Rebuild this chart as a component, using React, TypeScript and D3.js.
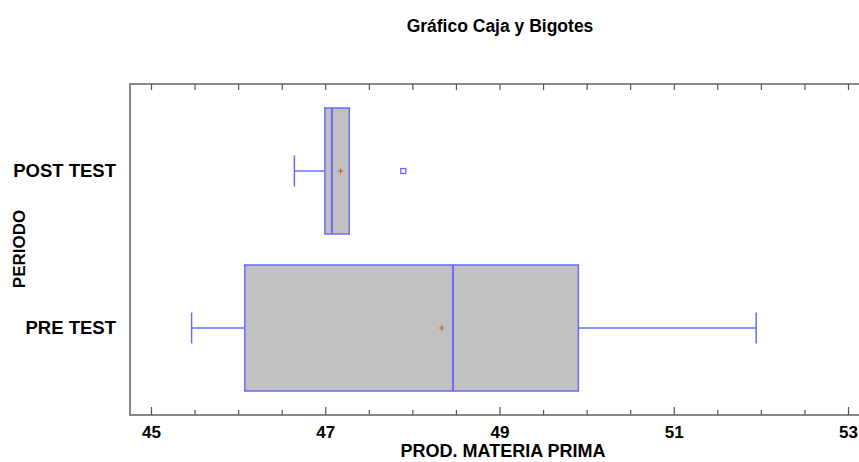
import * as d3 from "d3";
import { useEffect, useRef } from "react";

// Periodos y estadisticos
const periods = ["POST TEST", "PRE TEST"];
const mins = [46.64, 45.46];
const q1s = [46.99, 46.07];
const medians = [47.07, 48.46];
const q3s = [47.27, 49.9];
const maxs = [47.27, 51.94];
const means = [47.17, 48.33];
const outliers = [[47.89], []];
const xTicks = [45, 47, 49, 51, 53];

const App = () => {
  const ref = useRef(null);

  useEffect(() => {
    const svg = d3.select(ref.current);
    svg.selectAll("*").remove();

    const width = 859;
    const height = 462;
    const left = 130;
    const right = 859;
    const top = 84;
    const bottom = 415;
    const font = "'Liberation Sans', Arial, sans-serif";
    const blue = "#6a6aff";

    svg.attr("width", width).attr("height", height);

    const x = d3.scaleLinear().domain([45, 53]).range([151.5, 848.5]);
    const y = d3.scalePoint().domain(periods).range([171, 328]);

    // Marco
    const frame = svg.append("g").attr("stroke", "#888").attr("stroke-width", 2).attr("fill", "none");
    frame.append("line").attr("x1", left).attr("x2", right).attr("y1", top).attr("y2", top);
    frame.append("line").attr("x1", left).attr("x2", right).attr("y1", bottom).attr("y2", bottom);
    frame.append("line").attr("x1", left).attr("x2", left).attr("y1", top - 1).attr("y2", bottom + 1);

    const minor = d3.range(45, 53.01, 0.5);
    // Ticks superiores
    svg.append("g").selectAll("line").data(minor).enter().append("line")
      .attr("x1", d => x(d)).attr("x2", d => x(d))
      .attr("y1", top).attr("y2", top + 6)
      .attr("stroke", "#555").attr("stroke-width", 1.2);
    // Ticks inferiores
    svg.append("g").selectAll("line").data(minor).enter().append("line")
      .attr("x1", d => x(d)).attr("x2", d => x(d))
      .attr("y1", bottom)
      .attr("y2", d => (xTicks.includes(d) ? bottom - 8 : bottom - 5))
      .attr("stroke", "#555").attr("stroke-width", 1.2);

    svg.append("g").selectAll("text").data(xTicks).enter().append("text")
      .attr("x", d => x(d)).attr("y", 438)
      .attr("text-anchor", "middle")
      .attr("font-family", font).attr("font-weight", "bold").attr("font-size", 17)
      .text(d => d);

    // Etiquetas de periodo
    svg.append("g").selectAll("text").data(periods).enter().append("text")
      .attr("x", 116).attr("y", d => y(d) + 6)
      .attr("text-anchor", "end")
      .attr("font-family", font).attr("font-weight", "bold").attr("font-size", 18.5)
      .text(d => d);

    // Titulos
    svg.append("text").attr("x", 500).attr("y", 32).attr("text-anchor", "middle")
      .attr("font-family", font).attr("font-weight", "bold").attr("font-size", 17.5)
      .text("Gráfico Caja y Bigotes");
    svg.append("text").attr("x", 503).attr("y", 457).attr("text-anchor", "middle")
      .attr("font-family", font).attr("font-weight", "bold").attr("font-size", 18)
      .text("PROD. MATERIA PRIMA");
    svg.append("text").attr("transform", "translate(25,249) rotate(-90)")
      .attr("text-anchor", "middle")
      .attr("font-family", font).attr("font-weight", "bold").attr("font-size", 17)
      .text("PERIODO");

    const boxH = 126;
    const capH = 31;
    const g = svg.append("g");
    periods.forEach((p, i) => {
      const cy = y(p);
      // bigotes
      g.append("line").attr("x1", x(mins[i])).attr("x2", x(q1s[i]))
        .attr("y1", cy).attr("y2", cy).attr("stroke", blue).attr("stroke-width", 1.5);
      g.append("line").attr("x1", x(mins[i])).attr("x2", x(mins[i]))
        .attr("y1", cy - capH / 2).attr("y2", cy + capH / 2).attr("stroke", blue).attr("stroke-width", 1.5);
      if (maxs[i] > q3s[i]) {
        g.append("line").attr("x1", x(q3s[i])).attr("x2", x(maxs[i]))
          .attr("y1", cy).attr("y2", cy).attr("stroke", blue).attr("stroke-width", 1.5);
        g.append("line").attr("x1", x(maxs[i])).attr("x2", x(maxs[i]))
          .attr("y1", cy - capH / 2).attr("y2", cy + capH / 2).attr("stroke", blue).attr("stroke-width", 1.5);
      }
      // caja
      g.append("rect")
        .attr("x", x(q1s[i])).attr("y", cy - boxH / 2)
        .attr("width", x(q3s[i]) - x(q1s[i])).attr("height", boxH)
        .attr("fill", "#c0c0c0").attr("stroke", blue).attr("stroke-width", 1.5);
      g.append("line").attr("x1", x(medians[i])).attr("x2", x(medians[i]))
        .attr("y1", cy - boxH / 2).attr("y2", cy + boxH / 2)
        .attr("stroke", blue).attr("stroke-width", 2);
      // media
      const mx = x(means[i]);
      g.append("path").attr("d", `M${mx - 2.5},${cy}H${mx + 2.5}M${mx},${cy - 2.5}V${cy + 2.5}`)
        .attr("stroke", "#b5652a").attr("stroke-width", 1.2);
      // atipicos
      outliers[i].forEach(o => {
        g.append("rect").attr("x", x(o) - 2.5).attr("y", cy - 2.5)
          .attr("width", 5).attr("height", 5)
          .attr("fill", "none").attr("stroke", blue).attr("stroke-width", 1.3);
      });
    });
  }, []);

  return (
    <svg
      ref={ref}
      width="859"
      height="462"
      style={{ position: "absolute", left: 0, top: 0, display: "block" }}
    ></svg>
  );
};

export default App;
